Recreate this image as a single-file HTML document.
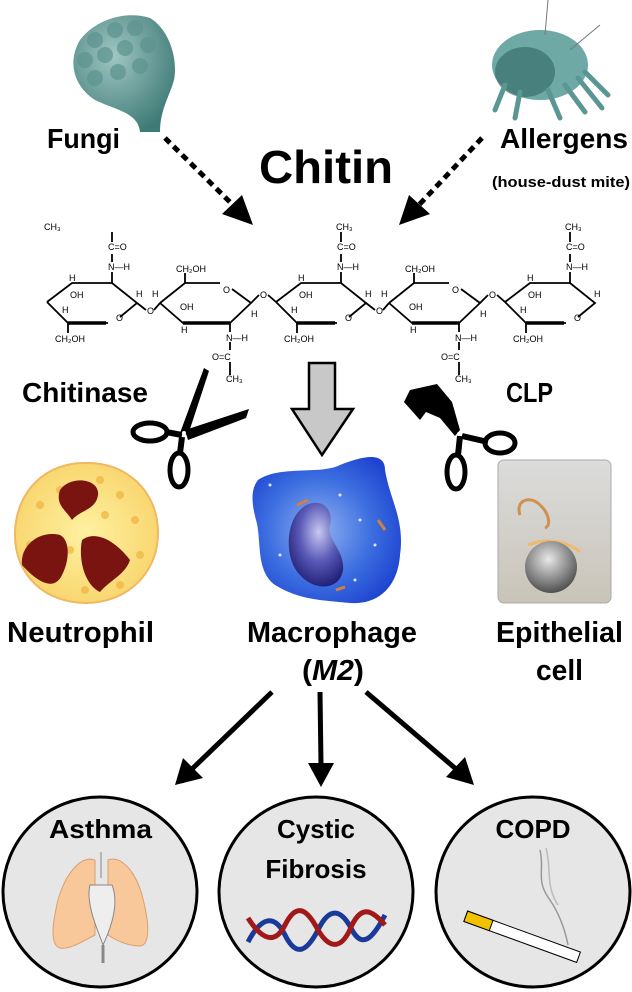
<!DOCTYPE html>
<html><head><meta charset="utf-8"><style>
html,body{margin:0;padding:0;background:#fff;}
svg{display:block;}
.lb{font-family:"Liberation Sans",sans-serif;font-weight:bold;fill:#000;}
.ch{font-family:"Liberation Sans",sans-serif;font-size:9px;fill:#000;}
</style></head><body>
<svg width="632" height="992" viewBox="0 0 632 992" xmlns="http://www.w3.org/2000/svg">
<defs>
<radialGradient id="fg" cx="0.4" cy="0.35" r="0.7"><stop offset="0" stop-color="#9fc6c2"/><stop offset="1" stop-color="#3e7a76"/></radialGradient>
<radialGradient id="mg" cx="0.45" cy="0.5" r="0.6"><stop offset="0" stop-color="#8fb0f0"/><stop offset="0.6" stop-color="#3b6de0"/><stop offset="1" stop-color="#1f45d0"/></radialGradient>
<radialGradient id="nuc" cx="0.55" cy="0.35" r="0.7"><stop offset="0" stop-color="#c8c8f0"/><stop offset="0.5" stop-color="#5a5ab8"/><stop offset="1" stop-color="#1a1a70"/></radialGradient>
<radialGradient id="sp" cx="0.45" cy="0.35" r="0.7"><stop offset="0" stop-color="#e8e8e8"/><stop offset="1" stop-color="#444"/></radialGradient>
<radialGradient id="ng" cx="0.5" cy="0.5" r="0.6"><stop offset="0" stop-color="#fff1a0"/><stop offset="1" stop-color="#f7d268"/></radialGradient>
<linearGradient id="eg" x1="0" y1="0" x2="0" y2="1"><stop offset="0" stop-color="#dcdcdc"/><stop offset="1" stop-color="#c9c4b8"/></linearGradient>
</defs>

<!-- Fungi -->
<path d="M140,132 L160,132 C160,110 170,95 174,80 C178,60 170,30 150,18 C125,10 95,20 80,40 C68,60 72,85 95,100 C115,110 138,112 140,132 Z" fill="url(#fg)"/>
<g fill="#5d938f" opacity="0.7">
<circle cx="95" cy="40" r="8"/><circle cx="115" cy="30" r="8"/><circle cx="135" cy="28" r="8"/><circle cx="85" cy="60" r="8"/><circle cx="105" cy="55" r="8"/><circle cx="125" cy="48" r="8"/><circle cx="148" cy="45" r="8"/><circle cx="95" cy="78" r="8"/><circle cx="118" cy="72" r="8"/><circle cx="140" cy="66" r="8"/>
</g>
<!-- Mite -->
<ellipse cx="540" cy="65" rx="48" ry="35" fill="#6fa9a6"/>
<ellipse cx="525" cy="72" rx="30" ry="25" fill="#2f6662" opacity="0.6"/>
<g stroke="#5a9693" stroke-width="5" fill="none" stroke-linecap="round">
<path d="M505,85 L495,110"/><path d="M520,92 L515,118"/><path d="M548,90 L560,118"/><path d="M565,85 L585,112"/><path d="M578,78 L602,108"/><path d="M585,72 L608,95"/>
</g>
<path d="M545,35 L548,0 M570,50 L600,25" stroke="#777" stroke-width="1"/>

<text class="lb" x="47" y="148" font-size="28" textLength="73" lengthAdjust="spacingAndGlyphs">Fungi</text>
<text class="lb" x="500" y="148" font-size="28" textLength="128" lengthAdjust="spacingAndGlyphs">Allergens</text>
<text class="lb" x="492" y="187" font-size="15" textLength="138" lengthAdjust="spacingAndGlyphs">(house-dust mite)</text>
<text class="lb" x="259" y="183" font-size="46" textLength="134" lengthAdjust="spacingAndGlyphs">Chitin</text>

<!-- dashed arrows -->
<line x1="165" y1="138" x2="235" y2="207" stroke="#000" stroke-width="5" stroke-dasharray="7,5"/>
<polygon points="253,225 222,214 242,195" fill="#000"/>
<line x1="482" y1="138" x2="417" y2="207" stroke="#000" stroke-width="5" stroke-dasharray="7,5"/>
<polygon points="399,225 409,195 430,214" fill="#000"/>

<!-- chitin chain -->
<g stroke="#000" stroke-width="1.8" fill="none">
<!-- ring1 -->
<path d="M47,302 L72,283 L112,283 L137,303 L120,317 M108,323 L68,323 L47,302"/>
<path d="M68,323 L106,323" stroke-width="3.5"/>
<!-- ring3 -->
<path d="M276,302 L301,283 L341,283 L366,303 L349,317 M337,323 L297,323 L276,302"/>
<path d="M297,323 L335,323" stroke-width="3.5"/>
<!-- ring5 -->
<path d="M505,302 L530,283 L570,283 L595,303 L578,317 M566,323 L526,323 L505,302"/>
<path d="M526,323 L564,323" stroke-width="3.5"/>
<!-- ring2 -->
<path d="M160,303 L185,283 L220,283 M232,289 L251,303 L230,323 L183,323 L160,303"/>
<path d="M183,323 L230,323" stroke-width="3.5"/>
<!-- ring4 -->
<path d="M389,303 L414,283 L449,283 M461,289 L480,303 L459,323 L412,323 L389,303"/>
<path d="M412,323 L459,323" stroke-width="3.5"/>
<!-- glycosidic links -->
<path d="M137,303 L146,310 M154,310 L160,303"/>
<path d="M251,303 L259,295 M268,295 L276,302"/>
<path d="M366,303 L375,310 M383,310 L389,303"/>
<path d="M480,303 L488,295 M497,295 L505,302"/>
<!-- NH/C=O up rings 1,3,5 -->
<path d="M112,283 L112,272 M112,262 L112,254 M112,242 L112,232"/>
<path d="M341,283 L341,272 M341,262 L341,254 M341,242 L341,232"/>
<path d="M570,283 L570,272 M570,262 L570,254 M570,242 L570,232"/>
<!-- NH down rings 2,4 -->
<path d="M230,323 L230,332 M230,342 L230,350 M230,362 L230,375"/>
<path d="M459,323 L459,332 M459,342 L459,350 M459,362 L459,375"/>
<!-- CH2OH stems -->
<path d="M185,283 L185,273 M414,283 L414,273 M68,323 L68,333 M297,323 L297,333 M526,323 L526,333"/>
</g>
<g class="ch">
<text x="44" y="230">CH₃</text><text x="108" y="250">C=O</text><text x="108" y="270">N—H</text>
<text x="336" y="230">CH₃</text><text x="337" y="250">C=O</text><text x="337" y="270">N—H</text>
<text x="565" y="230">CH₃</text><text x="566" y="250">C=O</text><text x="566" y="270">N—H</text>
<text x="176" y="272">CH₂OH</text><text x="405" y="272">CH₂OH</text>
<text x="55" y="342">CH₂OH</text><text x="284" y="342">CH₂OH</text><text x="513" y="342">CH₂OH</text>
<text x="226" y="341">N—H</text><text x="455" y="341">N—H</text>
<text x="212" y="360">O=C</text><text x="441" y="360">O=C</text>
<text x="226" y="382">CH₃</text><text x="455" y="382">CH₃</text>
<text x="116" y="321">O</text><text x="345" y="321">O</text><text x="574" y="321">O</text>
<text x="223" y="293">O</text><text x="452" y="293">O</text>
<text x="147" y="314">O</text><text x="376" y="314">O</text>
<text x="260" y="298">O</text><text x="489" y="298">O</text>
<text x="70" y="298">OH</text><text x="299" y="298">OH</text><text x="528" y="298">OH</text>
<text x="180" y="310">OH</text><text x="409" y="310">OH</text>
<text x="69" y="281">H</text><text x="298" y="281">H</text><text x="527" y="281">H</text>
<text x="136" y="297">H</text><text x="365" y="297">H</text><text x="594" y="297">H</text>
<text x="62" y="313">H</text><text x="291" y="313">H</text><text x="520" y="313">H</text>
<text x="181" y="333">H</text><text x="410" y="333">H</text>
<text x="152" y="297">H</text><text x="381" y="297">H</text>
<text x="251" y="317">H</text><text x="480" y="317">H</text>
</g>

<!-- gray arrow -->
<polygon points="309,363 335,363 335,409 353,409 322,455 292,409 309,409" fill="#c8c8c8" stroke="#000" stroke-width="2.5"/>

<text class="lb" x="22" y="402" font-size="28" textLength="126" lengthAdjust="spacingAndGlyphs">Chitinase</text>
<text class="lb" x="506" y="402" font-size="28" textLength="47" lengthAdjust="spacingAndGlyphs">CLP</text>

<!-- left scissors -->
<g fill="#000">
<polygon points="204,368 209,371 188,435 180,433"/>
<polygon points="185,430 249,409 246,418 188,440"/>
<ellipse cx="150" cy="432" rx="17" ry="9" fill="none" stroke="#000" stroke-width="5"/>
<line x1="166" y1="432" x2="182" y2="435" stroke="#000" stroke-width="6"/>
<ellipse cx="179" cy="470" rx="9" ry="17" fill="none" stroke="#000" stroke-width="5"/>
<line x1="182" y1="437" x2="180" y2="453" stroke="#000" stroke-width="6"/>
<circle cx="184" cy="433" r="2" fill="#fff"/>
</g>
<!-- right scissors -->
<g fill="#000">
<path d="M410,390 L437,384 L452,402 L460,430 L455,436 L440,418 L426,412 L420,420 L404,402 Z"/>
<line x1="462" y1="436" x2="488" y2="442" stroke="#000" stroke-width="6"/>
<ellipse cx="500" cy="443" rx="15" ry="10" fill="none" stroke="#000" stroke-width="5"/>
<line x1="460" y1="436" x2="458" y2="455" stroke="#000" stroke-width="6"/>
<ellipse cx="456" cy="472" rx="9" ry="17" fill="none" stroke="#000" stroke-width="5"/>
<circle cx="459" cy="434" r="2" fill="#fff"/>
</g>

<!-- Neutrophil -->
<path d="M86,463 C125,462 158,490 158,533 C158,575 125,603 86,603 C45,603 14,575 15,533 C16,490 47,462 86,463 Z" fill="url(#ng)" stroke="#f0b860" stroke-width="2"/>
<g fill="#f2b84a" opacity="0.8">
<circle cx="40" cy="505" r="4"/><circle cx="60" cy="490" r="4"/><circle cx="100" cy="480" r="4"/><circle cx="120" cy="495" r="4"/><circle cx="135" cy="520" r="4"/><circle cx="140" cy="555" r="4"/><circle cx="120" cy="585" r="4"/><circle cx="85" cy="590" r="4"/><circle cx="50" cy="580" r="4"/><circle cx="30" cy="545" r="4"/><circle cx="70" cy="550" r="4"/><circle cx="105" cy="515" r="4"/>
</g>
<g fill="#7a1410">
<path d="M60,490 C70,475 100,478 98,495 C96,510 80,510 72,520 C66,510 55,505 60,490 Z"/>
<path d="M22,565 C20,545 40,530 60,535 C70,540 70,560 62,575 C55,590 40,585 22,565 Z"/>
<path d="M82,540 C95,530 115,540 130,560 C125,575 110,580 100,592 C85,585 78,560 82,540 Z"/>
</g>

<!-- Macrophage -->
<path d="M258,480 C280,465 320,475 340,465 C365,455 385,452 385,470 C390,500 405,520 400,555 C398,585 380,605 350,603 C320,600 300,600 275,585 C255,570 262,540 256,520 C252,505 250,490 258,480 Z" fill="url(#mg)"/>
<path d="M300,510 C315,495 335,505 330,525 C326,540 345,550 343,570 C340,590 315,592 300,575 C285,560 285,525 300,510 Z" fill="url(#nuc)"/>
<g fill="#dfe8ff"><circle cx="270" cy="485" r="1.5"/><circle cx="340" cy="495" r="1.5"/><circle cx="360" cy="520" r="1.5"/><circle cx="375" cy="545" r="1.5"/><circle cx="280" cy="555" r="1.5"/><circle cx="355" cy="580" r="1.5"/></g>
<path d="M297,505 L308,500 M378,520 L385,530 M336,590 L345,587" stroke="#d08040" stroke-width="3"/>

<!-- Epithelial -->
<rect x="498" y="460" width="113" height="143" rx="6" fill="url(#eg)" stroke="#aaa" stroke-width="1"/>
<path d="M520,515 C515,500 530,495 540,505 C548,512 552,525 545,528" fill="none" stroke="#d09050" stroke-width="3"/>
<path d="M528,545 C545,538 565,540 580,552" fill="none" stroke="#f0b870" stroke-width="3"/>
<circle cx="551" cy="567" r="26" fill="url(#sp)"/>

<text class="lb" x="7" y="642" font-size="29" textLength="147" lengthAdjust="spacingAndGlyphs">Neutrophil</text>
<text class="lb" x="247" y="642" font-size="29" textLength="170" lengthAdjust="spacingAndGlyphs">Macrophage</text>
<text class="lb" x="302" y="680" font-size="29" textLength="62" lengthAdjust="spacingAndGlyphs">(<tspan font-style="italic">M2</tspan>)</text>
<text class="lb" x="496" y="642" font-size="29" textLength="127" lengthAdjust="spacingAndGlyphs">Epithelial</text>
<text class="lb" x="536" y="680" font-size="29" textLength="47" lengthAdjust="spacingAndGlyphs">cell</text>

<!-- arrows to diseases -->
<g stroke="#000" stroke-width="5">
<line x1="272" y1="692" x2="192" y2="769"/>
<line x1="320" y1="692" x2="321" y2="765"/>
<line x1="366" y1="692" x2="456" y2="769"/>
</g>
<polygon points="175,785 183,758 203,778" fill="#000"/>
<polygon points="321,787 308,763 334,763" fill="#000"/>
<polygon points="474,785 446,777 465,757" fill="#000"/>

<!-- circles -->
<ellipse cx="100" cy="892" rx="97" ry="95" fill="#e6e6e6" stroke="#000" stroke-width="3"/>
<ellipse cx="316" cy="892" rx="97" ry="95" fill="#e6e6e6" stroke="#000" stroke-width="3"/>
<ellipse cx="533" cy="892" rx="97" ry="95" fill="#e6e6e6" stroke="#000" stroke-width="3"/>

<!-- lungs -->
<path d="M95,860 C80,855 65,875 58,900 C52,925 50,945 60,948 C70,950 85,940 95,935 Z" fill="#f8c89a" stroke="#d9a070" stroke-width="1"/>
<path d="M108,860 C120,855 135,870 142,895 C150,925 150,945 140,946 C128,946 115,940 108,935 Z" fill="#f8c89a" stroke="#d9a070" stroke-width="1"/>
<path d="M101,852 L101,878 M90,885 C85,905 100,935 103,945 C110,930 120,905 112,885 Z" fill="#eee" stroke="#888" stroke-width="1"/>
<line x1="103" y1="945" x2="103" y2="963" stroke="#888" stroke-width="3"/>

<!-- DNA -->
<g stroke-width="5" fill="none">
<path d="M248,942 C262,915 275,915 285,935 C295,955 305,955 318,930 C330,905 342,910 352,930 C362,948 372,940 385,915" stroke="#1a3a9a"/>
<path d="M248,918 C262,940 275,945 285,925 C295,905 305,905 318,930 C330,950 342,950 352,925 C362,905 372,910 385,925" stroke="#a01818"/>
</g>

<!-- cigarette -->
<g transform="rotate(20 510 935)">
<rect x="462" y="927" width="120" height="11" fill="#fff" stroke="#000" stroke-width="1"/>
<rect x="462" y="927" width="27" height="11" fill="#f2c200" stroke="#000" stroke-width="1"/>
</g>
<path d="M540,850 C545,870 535,880 550,900 C560,915 565,930 568,945" fill="none" stroke="#999" stroke-width="1.5"/>
<path d="M546,848 C552,870 545,885 558,905" fill="none" stroke="#bbb" stroke-width="1.5"/>

<text class="lb" x="49" y="838" font-size="26" textLength="103" lengthAdjust="spacingAndGlyphs">Asthma</text>
<text class="lb" x="316" y="838" font-size="26" text-anchor="middle">Cystic</text>
<text class="lb" x="316" y="878" font-size="26" text-anchor="middle">Fibrosis</text>
<text class="lb" x="533" y="838" font-size="26" text-anchor="middle">COPD</text>
</svg>
</body></html>
